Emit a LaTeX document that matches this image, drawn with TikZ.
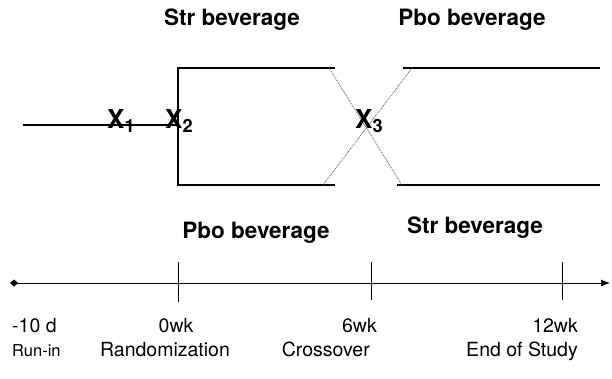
\documentclass[tikz,border=0pt]{standalone}
\usepackage{fontspec}
\setmainfont{TeX Gyre Heros}
\usetikzlibrary{arrows.meta}
\begin{document}
\begin{tikzpicture}[x=1pt,y=-1pt,
  line/.style={black,line width=1.1pt},
  diag/.style={black!70,line width=0.8pt,densely dotted},
  arm/.style={font=\fontsize{22.5}{26}\selectfont\bfseries,inner sep=0pt},
  xlab/.style={font=\fontsize{26}{30}\selectfont\bfseries,inner sep=0pt},
  tlab/.style={font=\fontsize{19.5}{23}\selectfont,inner sep=0pt},
  slab/.style={font=\fontsize{16.5}{19}\selectfont,inner sep=0pt},
  tick/.style={black,line width=1pt}]
\useasboundingbox (0,0) rectangle (612,378);
% arm labels
\node[arm] (s1) at (232,20) {Str beverage};
\node[arm] (p1) at (472,20) {Pbo beverage};
\node[arm] (p2) at (256,233) {Pbo beverage};
\node[arm] (s2) at (475,228) {Str beverage};
% design lines
\coordinate (L0) at (23,125);
\coordinate (L1) at (178,125);
\coordinate (T0) at (178,68);
\coordinate (B0) at (178,185);
\coordinate (T1) at (335,68);
\coordinate (B1) at (335,185);
\coordinate (T2) at (403,68);
\coordinate (B2) at (397,185);
\coordinate (T3) at (600,68);
\coordinate (B3) at (600,185);
\coordinate (D1) at (329,68);
\coordinate (D2) at (402,185);
\coordinate (D3) at (412,68);
\coordinate (D4) at (323,185);
\draw[line] (L0) -- (L1);
\draw[line] (T1) -- (T0) -- (B0) -- (B1);
\draw[line] (T2) -- (T3);
\draw[line] (B2) -- (B3);
\draw[diag] (D1) -- (D2);
\draw[diag] (D3) -- (D4);
\node[xlab,anchor=base west] (x1) at (107,128) {X\textsubscript{1}};
\node[xlab,anchor=base west] (x2) at (165,128) {X\textsubscript{2}};
\node[xlab,anchor=base west] (x3) at (355,128) {X\textsubscript{3}};
% timeline
\coordinate (A0) at (14,283);
\coordinate (A1) at (610,283);
\draw[line,line width=0.9pt,-{Latex[length=9pt,width=7pt]}] (A0) -- (A1);
\fill (A0) ++(-4,0) -- ++(4,-3.5) -- ++(4,3.5) -- ++(-4,3.5) -- cycle;
\coordinate (k1a) at (178,262); \coordinate (k1b) at (178,302);
\coordinate (k2a) at (371,262); \coordinate (k2b) at (371,300);
\coordinate (k3a) at (562,262); \coordinate (k3b) at (562,300);
\draw[tick] (k1a) -- (k1b);
\draw[tick] (k2a) -- (k2b);
\draw[tick] (k3a) -- (k3b);
\node[tlab,anchor=base west] (d10) at (12,332) {-10 d};
\node[slab,anchor=base west] (run) at (12,356) {Run-in};
\node[tlab,anchor=base] (w0) at (176,332) {0wk};
\node[tlab,anchor=base] (rand) at (165,356) {Randomization};
\node[tlab,anchor=base east] (w6) at (377,332) {6wk};
\node[tlab,anchor=base east] (cross) at (370,356) {Crossover};
\node[tlab,anchor=base east] (w12) at (578,332) {12wk};
\node[tlab,anchor=base east] (eos) at (578,356) {End of Study};
\end{tikzpicture}
\end{document}
